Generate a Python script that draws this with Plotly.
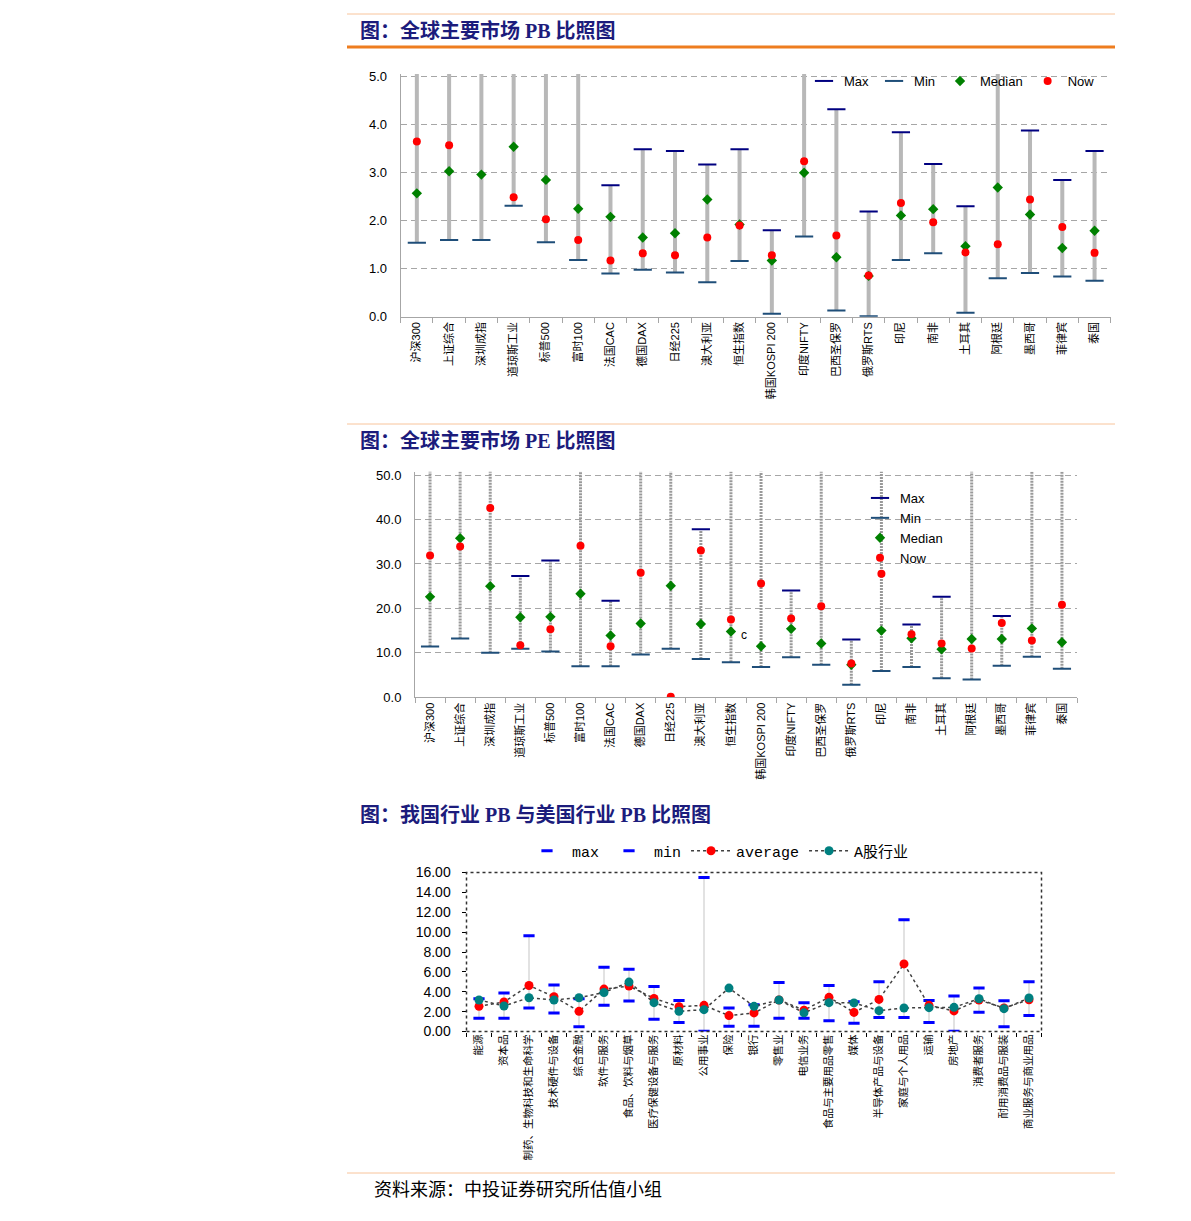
import plotly.graph_objects as go

W, H = 1191, 1221
OX, OY = -8, -8  # page body margin in the browser

markets = ["沪深300", "上证综合", "深圳成指", "道琼斯工业", "标普500", "富时100",
           "法国CAC", "德国DAX", "日经225", "澳大利亚", "恒生指数", "韩国KOSPI 200",
           "印度NIFTY", "巴西圣保罗", "俄罗斯RTS", "印尼", "南非", "土耳其",
           "阿根廷", "墨西哥", "菲律宾", "泰国"]

# PB of global markets (max values above 5.0 run off the chart)
pb_max = [5.9, 6.1, 5.8, 5.6, 5.5, 5.4, 2.74, 3.49, 3.45, 3.17, 3.49, 1.80,
          5.3, 4.32, 2.19, 3.84, 3.18, 2.30, 5.5, 3.88, 2.85, 3.45]
pb_min = [1.54, 1.60, 1.60, 2.31, 1.55, 1.18, 0.90, 0.98, 0.92, 0.72, 1.16, 0.06,
          1.67, 0.13, 0.01, 1.18, 1.32, 0.08, 0.80, 0.91, 0.84, 0.75]
pb_median = [2.57, 3.03, 2.96, 3.54, 2.85, 2.25, 2.08, 1.65, 1.74, 2.44, 1.92, 1.17,
             3.00, 1.24, 0.85, 2.11, 2.24, 1.47, 2.69, 2.13, 1.43, 1.79]
pb_now = [3.65, 3.57, None, 2.49, 2.03, 1.60, 1.17, 1.32, 1.28, 1.65, 1.90, 1.28,
          3.24, 1.69, 0.86, 2.37, 1.97, 1.34, 1.51, 2.44, 1.87, 1.33]

# PE of global markets (max values above 50 run off the chart)
pe_max = [62, 58, 66, 27.3, 30.8, 55, 21.7, 60, 64, 37.8, 57, 60,
          24.0, 58, 13.0, 56, 16.4, 22.6, 70, 18.3, 61, 55]
pe_min = [11.4, 13.2, 10.0, 10.9, 10.3, 7.0, 7.0, 9.6, 10.9, 8.6, 7.9, 6.8,
          9.0, 7.3, 2.8, 5.9, 6.8, 4.3, 4.0, 7.1, 9.1, 6.4]
pe_median = [22.6, 35.8, 25.0, 18.0, 18.1, 23.3, 13.9, 16.6, 25.1, 16.5, 14.8, 11.5,
             15.4, 12.1, 7.3, 15.0, 13.3, 10.8, 13.1, 13.1, 15.5, 12.4]
pe_now = [31.9, 33.9, 42.6, 11.7, 15.3, 34.1, 11.5, 28.0, 0.15, 33.0, 17.5, 25.6,
          17.7, 20.5, 7.6, 27.8, 14.2, 12.1, 11.0, 16.7, 12.8, 20.8]

industries = ["能源", "资本品", "制药、生物科技和生命科学", "技术硬件与设备", "综合金融",
              "软件与服务", "食品、饮料与烟草", "医疗保健设备与服务", "原材料", "公用事业",
              "保险", "银行", "零售业", "电信业务", "食品与主要用品零售", "媒体",
              "半导体产品与设备", "家庭与个人用品", "运输", "房地产", "消费者服务",
              "耐用消费品与服装", "商业服务与商业用品"]
ind_max = [3.3, 3.87, 9.63, 4.67, 3.3, 6.47, 6.27, 4.53, 3.13, 15.5, 2.37, 2.7,
           4.93, 2.89, 4.63, 3.0, 5.0, 11.25, 3.13, 3.57, 4.37, 3.1, 5.0]
ind_min = [1.33, 1.33, 2.37, 1.87, 0.47, 2.63, 3.07, 1.23, 0.9, 0.03, 0.53, 0.53,
           1.34, 1.34, 1.07, 0.84, 1.4, 1.4, 0.9, 0.03, 1.93, 0.47, 1.6]
ind_avg = [2.53, 2.97, 4.63, 3.5, 2.03, 4.27, 4.57, 3.33, 2.5, 2.63, 1.6, 1.87,
           3.17, 2.15, 3.44, 1.92, 3.23, 6.8, 2.63, 2.07, 3.17, 2.37, 3.2]
ind_a = [3.17, 2.57, 3.40, 3.17, 3.40, 3.93, 4.97, 2.9, 2.03, 2.2, 4.37, 2.53,
         3.17, 1.88, 2.9, 2.88, 2.1, 2.37, 2.4, 2.43, 3.3, 2.3, 3.37]

CJK = "Liberation Sans, Noto Sans CJK SC"
SERIF = "Liberation Serif, Noto Sans CJK SC"


def px_x(p):
    return (p + OX) / W


def px_y(p):
    return 1 - (p + OY) / H


def segments(cats, lo, hi):
    xs, ys = [], []
    for c, a, b in zip(cats, lo, hi):
        xs += [c, c, None]
        ys += [a, b, None]
    return xs, ys


def range_chart(fig, cats, mx, mn, med, now, xa, ya, legend, bar_line):
    sx, sy = segments(cats, mn, mx)
    fig.add_trace(go.Scatter(x=sx, y=sy, mode="lines", line=bar_line,
                             showlegend=False, hoverinfo="skip",
                             xaxis=xa, yaxis=ya))
    fig.add_trace(go.Scatter(x=cats, y=mx, mode="markers", name="Max",
                             marker=dict(symbol="line-ew", size=13,
                                         line=dict(width=2, color="#000080")),
                             xaxis=xa, yaxis=ya, legend=legend))
    fig.add_trace(go.Scatter(x=cats, y=mn, mode="markers", name="Min",
                             marker=dict(symbol="line-ew", size=13,
                                         line=dict(width=2, color="#1f4e79")),
                             xaxis=xa, yaxis=ya, legend=legend))
    fig.add_trace(go.Scatter(x=cats, y=med, mode="markers", name="Median",
                             marker=dict(symbol="diamond", size=8, color="#008000"),
                             xaxis=xa, yaxis=ya, legend=legend))
    fig.add_trace(go.Scatter(x=cats, y=now, mode="markers", name="Now",
                             marker=dict(symbol="circle", size=8, color="#ff0000"),
                             xaxis=xa, yaxis=ya, legend=legend))


fig = go.Figure()

range_chart(fig, markets, pb_max, pb_min, pb_median, pb_now, "x", "y", "legend",
            dict(color="#b8b8b8", width=4))
range_chart(fig, markets, pe_max, pe_min, pe_median, pe_now, "x2", "y2", "legend2",
            dict(color="#999999", width=3, dash="2px,1px"))

# industry PB chart
sx, sy = segments(industries, ind_min, ind_max)
fig.add_trace(go.Scatter(x=sx, y=sy, mode="lines", line=dict(color="#d9d9d9", width=1.5),
                         showlegend=False, hoverinfo="skip", xaxis="x3", yaxis="y3"))
fig.add_trace(go.Scatter(x=industries, y=ind_max, mode="markers", name="max",
                         marker=dict(symbol="line-ew", size=8, line=dict(width=3, color="#0000ff")),
                         xaxis="x3", yaxis="y3", legend="legend3"))
fig.add_trace(go.Scatter(x=industries, y=ind_min, mode="markers", name="min",
                         marker=dict(symbol="line-ew", size=8, line=dict(width=3, color="#0000ff")),
                         xaxis="x3", yaxis="y3", legend="legend3"))
fig.add_trace(go.Scatter(x=industries, y=ind_avg, mode="lines+markers", name="average",
                         line=dict(color="#404040", width=1.5, dash="dot"),
                         marker=dict(symbol="circle", size=9, color="#ff0000"),
                         xaxis="x3", yaxis="y3", legend="legend3"))
fig.add_trace(go.Scatter(x=industries, y=ind_a, mode="lines+markers", name="A股行业",
                         line=dict(color="#404040", width=1.5, dash="dot"),
                         marker=dict(symbol="circle", size=9, color="#008080"),
                         xaxis="x3", yaxis="y3", legend="legend3"))

xcommon = dict(type="category", tickangle=-90, showgrid=False, ticks="outside",
               tickson="boundaries", ticklen=5, tickcolor="#a6a6a6", automargin=False,
               showline=True, linecolor="#a6a6a6",
               tickfont=dict(family=CJK, size=11, color="#000"))
ycommon = dict(showgrid=True, gridcolor="#a6a6a6", griddash="6px,4px", zeroline=False,
               showline=True, linecolor="#a6a6a6", ticklabelstandoff=10, automargin=False,
               tickfont=dict(family="Liberation Sans", size=13, color="#000"))

fig.update_layout(
    width=W, height=H, autosize=False,
    margin=dict(l=0, r=0, t=0, b=0, autoexpand=False),
    paper_bgcolor="white", plot_bgcolor="white",
    showlegend=True,
    xaxis=dict(xcommon, domain=[px_x(400.7), px_x(1110.7)], anchor="y",
               categoryorder="array", categoryarray=markets, range=[-0.5, 21.5]),
    yaxis=dict(ycommon, domain=[px_y(316.7), px_y(74)], anchor="x",
               range=[0, 5.056], tickvals=[0, 1, 2, 3, 4, 5], tickformat=".1f"),
    xaxis2=dict(xcommon, domain=[px_x(415), px_x(1077)], anchor="y2",
                categoryorder="array", categoryarray=markets, range=[-0.5, 21.5]),
    yaxis2=dict(ycommon, domain=[px_y(697.3), px_y(471.7)], anchor="x2",
                range=[0, 50.75], tickvals=[0, 10, 20, 30, 40, 50], tickformat=".1f"),
    xaxis3=dict(type="category", tickangle=-90, showgrid=False, ticks="outside",
                tickson="boundaries", ticklen=4, tickcolor="#000", showline=False,
                automargin=False,
                tickfont=dict(family="Noto Sans CJK SC", size=10.5, color="#000"),
                domain=[px_x(466.5), px_x(1041.5)], anchor="y3",
                categoryorder="array", categoryarray=industries, range=[-0.5, 22.5]),
    yaxis3=dict(showgrid=False, zeroline=False, showline=False, ticks="outside",
                ticklen=4, tickcolor="#000", ticklabelstandoff=8, automargin=False,
                tickfont=dict(family="Liberation Sans", size=14, color="#000"),
                domain=[px_y(1031.5), px_y(872.5)], anchor="x3",
                range=[0, 16], tickvals=list(range(0, 17, 2)), tickformat=".2f"),
    legend=dict(orientation="h", x=px_x(1100), xanchor="right", y=px_y(81),
                yanchor="middle", bgcolor="rgba(0,0,0,0)", itemwidth=30,
                font=dict(family="Liberation Sans", size=13, color="#000")),
    legend2=dict(orientation="v", x=px_x(860), xanchor="left", y=px_y(483),
                 yanchor="top", bgcolor="rgba(0,0,0,0)", itemwidth=30,
                 tracegroupgap=0,
                 font=dict(family="Liberation Sans", size=13, color="#000")),
    legend3=dict(orientation="h", x=px_x(522), xanchor="left", y=px_y(851),
                 yanchor="middle", bgcolor="rgba(0,0,0,0)", itemwidth=40,
                 font=dict(family="Liberation Mono, Noto Sans CJK SC", size=15, color="#000")),
)

# dotted frame of the industry chart
fig.add_shape(type="rect", xref="x3 domain", yref="y3 domain", x0=0, x1=1, y0=0, y1=1,
              line=dict(color="#333333", width=1.5, dash="dot"))

# report rules
for yy, col, wd in [(14, "#f8c49b", 1), (47, "#ee7d1f", 3), (424, "#f8c49b", 1),
                    (1173, "#f8c49b", 1)]:
    fig.add_shape(type="line", xref="paper", yref="paper",
                  x0=px_x(347), x1=px_x(1115), y0=px_y(yy), y1=px_y(yy),
                  line=dict(color=col, width=wd))

titles = [(31, "图：全球主要市场 PB 比照图"),
          (440, "图：全球主要市场 PE 比照图"),
          (815, "图：我国行业 PB 与美国行业 PB 比照图")]
for yy, txt in titles:
    fig.add_annotation(text="<b>" + txt + "</b>", xref="paper", yref="paper",
                       x=px_x(358), y=px_y(yy), xanchor="left", yanchor="middle",
                       showarrow=False, font=dict(family=SERIF, size=20, color="#1c1c7c"))

fig.add_annotation(text="资料来源：中投证券研究所估值小组", xref="paper", yref="paper",
                   x=px_x(372), y=px_y(1190), xanchor="left", yanchor="middle",
                   showarrow=False, font=dict(family=SERIF, size=18, color="#000"))
fig.add_annotation(text="c", xref="paper", yref="paper", x=px_x(744), y=px_y(635),
                   xanchor="center", yanchor="middle", showarrow=False,
                   font=dict(family="Liberation Sans", size=12, color="#000"))

fig.write_html("out.html")
